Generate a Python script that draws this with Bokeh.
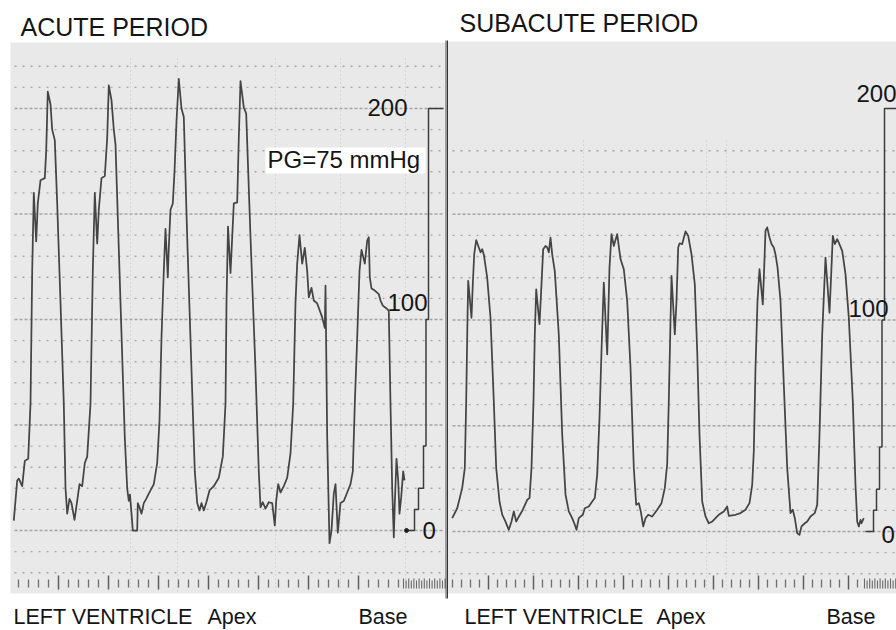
import numpy as np
from bokeh.plotting import figure
from bokeh.layouts import row
from bokeh.models import Range1d, Label
from bokeh.embed import file_html
from bokeh.resources import INLINE

# ---------------- data (time in s, left-ventricular pressure in mmHg) ----------------
acute_t = [
    0.033, 0.067, 0.083, 0.117, 0.143, 0.177, 0.200, 0.217, 0.233, 0.257, 0.273, 0.300, 0.343, 0.357, 0.373, 0.400,
    0.417, 0.443, 0.467, 0.500, 0.533, 0.550, 0.567, 0.590, 0.610, 0.640, 0.667, 0.690, 0.717, 0.743, 0.767,
    0.800, 0.823, 0.843, 0.867, 0.883, 0.910, 0.943, 0.967, 0.983, 1.010, 1.033, 1.050, 1.100, 1.143, 1.167,
    1.183, 1.195, 1.210, 1.223, 1.267, 1.273, 1.290, 1.310, 1.333, 1.357, 1.383, 1.433, 1.467, 1.490, 1.510, 1.533,
    1.550, 1.573, 1.583, 1.600, 1.623, 1.640, 1.660, 1.683, 1.710, 1.733, 1.767, 1.810, 1.843, 1.867, 1.890,
    1.910, 1.933, 1.957, 1.990, 2.033, 2.083, 2.123, 2.150, 2.160,
    2.175, 2.200, 2.217, 2.233, 2.267, 2.283, 2.300, 2.333, 2.357, 2.400, 2.450, 2.483, 2.500, 2.523, 2.550,
    2.583, 2.617, 2.643, 2.657, 2.677, 2.700, 2.733, 2.767, 2.800, 2.827, 2.850,
    2.867, 2.890, 2.917, 2.943, 2.967, 2.983, 3.010, 3.033, 3.067, 3.117, 3.143, 3.150, 3.167, 3.190, 3.210,
    3.233, 3.250, 3.273, 3.300, 3.333, 3.367, 3.400, 3.423, 3.443, 3.467,
    3.490, 3.510, 3.543, 3.567, 3.583, 3.593, 3.610, 3.643, 3.683, 3.700, 3.723, 3.767, 3.783, 3.800, 3.817,
    3.833, 3.843, 3.860, 3.877, 3.890, 3.907, 3.927, 3.940,
]
acute_p = [
    4.7, 23.7, 24.6, 21, 33, 34, 60, 123, 160, 137, 155, 166, 167, 180, 208, 202,
    190, 185, 155, 108, 60, 20, 8, 15, 13, 5, 14, 22, 21, 32, 35,
    60, 123, 160, 136, 152, 167, 168, 186, 211, 204, 190, 183, 108, 44, 20,
    14, 17, 8, 0, 0, 13, 11, 8, 13, 15, 17.5, 22, 32, 52, 91.5, 123,
    143, 120, 134, 152, 155, 170, 194, 214, 200, 196, 139, 76, 28, 13, 9.5,
    13, 9.5, 13, 19, 21, 25, 35, 60, 108,
    144, 122, 139, 155, 155.5, 186, 213, 200.5, 197.6, 139, 76, 28, 11, 13.4, 10.4,
    13.4, 13, 2.4, 14, 22, 18, 21, 25, 36.5, 60, 108,
    126.5, 140, 126.5, 134, 123, 110.5, 115, 109, 107.6, 101, 96, 116, 44, -6, 0,
    17.5, 22, -1, 13, 14, 18, 22, 28, 60, 91.5,
    123, 133, 126.5, 137.4, 139, 120, 114.7, 113.7, 112, 109, 106.6, 105, 104, 60, 20,
    -3.3, 12.8, 34, 23.7, 8, 15.8, 28, 23.7,
]

subacute_t = [
    0.047, 0.097, 0.147, 0.173, 0.187, 0.200, 0.207, 0.240, 0.253, 0.267, 0.287, 0.313, 0.330, 0.347, 0.363,
    0.397, 0.430, 0.463, 0.487, 0.520, 0.547, 0.580, 0.613, 0.640, 0.663, 0.687, 0.713, 0.753, 0.797, 0.820,
    0.840, 0.860, 0.873,
    0.887, 0.920, 0.940, 0.957, 0.980, 0.997, 1.013, 1.030, 1.047, 1.073, 1.113, 1.147, 1.180, 1.213, 1.247,
    1.273, 1.290, 1.313, 1.330, 1.353, 1.373, 1.413, 1.447, 1.473, 1.497, 1.520, 1.540,
    1.563, 1.597, 1.607, 1.620, 1.640, 1.663, 1.697, 1.730, 1.763, 1.797, 1.830, 1.863, 1.887, 1.913, 1.933,
    1.957, 1.980, 2.007, 2.047, 2.097, 2.140, 2.173, 2.197, 2.213, 2.220,
    2.240, 2.273, 2.290, 2.307, 2.320, 2.347, 2.380, 2.407, 2.440, 2.473, 2.497, 2.520, 2.547, 2.580, 2.613,
    2.647, 2.680, 2.720, 2.763, 2.797, 2.813, 2.880, 2.930, 2.980, 3.020, 3.047, 3.063, 3.080, 3.100,
    3.120, 3.153, 3.167, 3.180, 3.197, 3.220, 3.240, 3.263, 3.280, 3.300, 3.330, 3.363, 3.397, 3.430, 3.453,
    3.473, 3.497, 3.520, 3.540, 3.573, 3.597, 3.630, 3.673, 3.697, 3.720, 3.747,
    3.780, 3.820, 3.840, 3.853, 3.873, 3.897, 3.913, 3.947, 3.980, 4.013, 4.053, 4.080, 4.097, 4.113, 4.130,
    4.140, 4.163,
]
subacute_p = [
    6.3, 11, 20.5, 30, 61.6, 101, 118.5, 101, 117, 131, 137.8, 134.3, 132, 133.5, 131,
    120, 101, 61.6, 30, 14.2, 8, 4.7, 0.8, 4.7, 9.5, 4.7, 7, 10.3, 15, 15.8,
    30, 61.6, 93,
    114.5, 98, 117, 133.5, 135, 134.3, 132, 139, 131, 123, 93, 46, 17.5, 9.5, 6.3,
    3.2, 0.8, 6.3, 7, 7.9, 11, 11.8, 14.2, 15.8, 26.9, 53.7, 85.3,
    117.7, 83.7, 101, 124.8, 140.6, 135, 140.6, 128.8, 124, 109, 77.4, 30, 12.6, 13.4, 9.5,
    2.4, 6.3, 7.9, 7.1, 10.3, 13.4, 20.5, 32, 61.6, 77.4,
    120.9, 93.2, 109, 134.3, 136.2, 135.9, 141.9, 139.8, 131.1, 116.9, 85.3, 45.8, 14.2, 7.1, 3.9,
    4.7, 6.3, 8.2, 9.5, 11.8, 7.4, 7.9, 8.7, 10.3, 13.4, 22, 38, 77.4, 109,
    124, 107.4, 124.8, 142.2, 143.8, 139, 135.9, 134.3, 131, 125, 109, 69.5, 30, 8.7, 10.3,
    6.3, -0.8, -1.6, 2.4, 3.9, 4.7, 7.1, 8.7, 12.6, 45.8, 93.2,
    129.5, 103.4, 125, 139.8, 135.9, 138.2, 136.6, 132.7, 121.7, 101.1, 61.6, 22, 4.7, 2.4, 5.5,
    3.9, 6.3,
]

# calibration staircase levels (mmHg) and scale labels
cal_levels = [200, 100, 40, 20, 10, 0]
scale_labels = ["200", "100", "0"]

titles = ["ACUTE PERIOD", "SUBACUTE PERIOD"]
gradient_label = "PG=75 mmHg"
site_labels = ["LEFT VENTRICLE", "Apex", "Base"]

# ---------------- layout helpers (page pixel -> data) ----------------
def LX(px):
    return (px - 10) / 100.0


def LY(py):
    return (530 - py) / 2.11


def RX(px):
    return (px - 447) / 100.0


def RY(py):
    return (531 - py) / 2.115


FONT = "Liberation Sans"
TXT = "#151515"
PANEL = "#e9e9e9"
TRACE = "#444444"
H = 630


def make_fig(left_px, width, X, Y):
    p = figure(width=width, height=H, x_range=Range1d(X(left_px), X(left_px + width)),
               y_range=Range1d(Y(H), Y(0)), output_backend="svg", toolbar_location=None,
               min_border=0, x_axis_location=None, y_axis_location=None)
    p.grid.visible = False
    p.outline_line_color = None
    p.background_fill_color = "white"
    p.border_fill_color = "white"
    return p


def add_label(p, x, y, text, size, align="left"):
    # y is the vertical centre of the capital letters
    p.add_layout(Label(x=x, y=y, text=text, text_font=FONT, text_font_size=size,
                       text_color=TXT, text_align=align, text_baseline="middle"))


def grid_rows(p, levels, x0, x1):
    lv = np.array(levels, dtype=float)
    minor = lv[lv % 50 != 0]
    major = lv[lv % 50 == 0]
    p.segment(x0=[x0] * len(minor), x1=[x1] * len(minor), y0=minor, y1=minor,
              line_color="#a9a9a9", line_width=1.4, line_dash="2 6")
    p.segment(x0=[x0] * len(major), x1=[x1] * len(major), y0=major, y1=major,
              line_color="#a4a4a4", line_width=1.4, line_dash="3 2")


def vgrid(p, xs, y0, y1):
    p.segment(x0=xs, x1=xs, y0=[y0] * len(xs), y1=[y1] * len(xs),
              line_color="#bdbdbd", line_width=1, line_dash="1 3", line_alpha=0.8)


def time_ticks(p, X, Y, start, stop, step, dense_start, dense_stop):
    xs = np.arange(start, stop, step)
    k = np.arange(len(xs))
    short = xs[k % 5 != 4]
    long_ = xs[k % 5 == 4]
    p.segment(x0=[X(v) for v in short], x1=[X(v) for v in short],
              y0=[Y(579)] * len(short), y1=[Y(587)] * len(short), line_color="#6e6e6e", line_width=1.3)
    p.segment(x0=[X(v) for v in long_], x1=[X(v) for v in long_],
              y0=[Y(575)] * len(long_), y1=[Y(589)] * len(long_), line_color="#5e5e5e", line_width=1.5)
    d = np.arange(dense_start, dense_stop, 2.6)
    p.segment(x0=[X(v) for v in d], x1=[X(v) for v in d],
              y0=[Y(578 + (i % 2) * 2) for i in range(len(d))], y1=[Y(588)] * len(d),
              line_color="#6a6a6a", line_width=1.1)


def staircase(p, xs_px, X, end_left_px, top_right_px):
    xs = [X(top_right_px)]
    ys = [cal_levels[0]]
    for i, lvl in enumerate(cal_levels[:-1]):
        xs += [X(xs_px[i]), X(xs_px[i])]
        ys += [lvl, cal_levels[i + 1]]
    xs.append(X(end_left_px))
    ys.append(cal_levels[-1])
    p.line(xs, ys, line_color="#3c3c3c", line_width=1.5)


# ---------------- left panel: acute ----------------
pl = make_fig(0, 446, LX, LY)
pl.quad(left=LX(10), right=LX(450), top=LY(42), bottom=LY(593), fill_color=PANEL, line_color=None)
grid_rows(pl, np.arange(-20, 221, 10), LX(14), LX(443))
vgrid(pl, [LX(v) for v in (130, 177, 275, 340, 405)], LY(58), LY(592))
time_ticks(pl, LX, LY, 18, 400, 10, 403, 445)
pl.quad(left=LX(265), right=LX(425), top=LY(147), bottom=LY(173), fill_color="white", line_color=None)
staircase(pl, [428, 425.5, 423, 418, 414], LX, 406, 443)
pl.scatter([LX(406)], [0], size=4, color="#222222")
pl.line(acute_t, acute_p, line_color=TRACE, line_width=1.75, line_join="round")
pl.segment(x0=[LX(446.3)], x1=[LX(446.3)], y0=[LY(40)], y1=[LY(598)], line_color="#333333", line_width=2.4)

add_label(pl, LX(20), LY(26), titles[0], "25px")
add_label(pl, LX(407), LY(106.5), scale_labels[0], "24px", "right")
add_label(pl, LX(267), LY(159), gradient_label, "24px")
add_label(pl, LX(387), LY(301.5), scale_labels[1], "24px")
add_label(pl, LX(422), LY(529.5), scale_labels[2], "24px")
add_label(pl, LX(13), LY(616.5), site_labels[0], "21.5px")
add_label(pl, LX(207), LY(616.5), site_labels[1], "21.5px")
add_label(pl, LX(358), LY(616.5), site_labels[2], "21.5px")

# ---------------- right panel: subacute ----------------
pr = make_fig(446, 450, RX, RY)
pr.quad(left=RX(446), right=RX(900), top=RY(41), bottom=RY(593), fill_color=PANEL, line_color=None)
grid_rows(pr, np.arange(-20, 181, 10), RX(452), RX(900))
vgrid(pr, [RX(v) for v in (583, 706, 726)], RY(140), RY(592))
time_ticks(pr, RX, RY, 452, 858, 9, 864, 900)
staircase(pr, [884, 881.5, 879, 876, 873], RX, 865, 900)
pr.line(subacute_t, subacute_p, line_color=TRACE, line_width=1.75, line_join="round")
pr.segment(x0=[RX(446.3)], x1=[RX(446.3)], y0=[RY(40)], y1=[RY(598)], line_color="#333333", line_width=2.4)

add_label(pr, RX(459), RY(22.5), titles[1], "25px")
add_label(pr, RX(856), RY(92.5), scale_labels[0], "24px")
add_label(pr, RX(848), RY(307.5), scale_labels[1], "24px")
add_label(pr, RX(881), RY(533.5), scale_labels[2], "24px")
add_label(pr, RX(464), RY(616.5), site_labels[0], "21.5px")
add_label(pr, RX(656), RY(616.5), site_labels[1], "21.5px")
add_label(pr, RX(826), RY(616.5), site_labels[2], "21.5px")

layout = row(pl, pr, spacing=0)
open("out.html", "w").write(file_html(layout, INLINE))
